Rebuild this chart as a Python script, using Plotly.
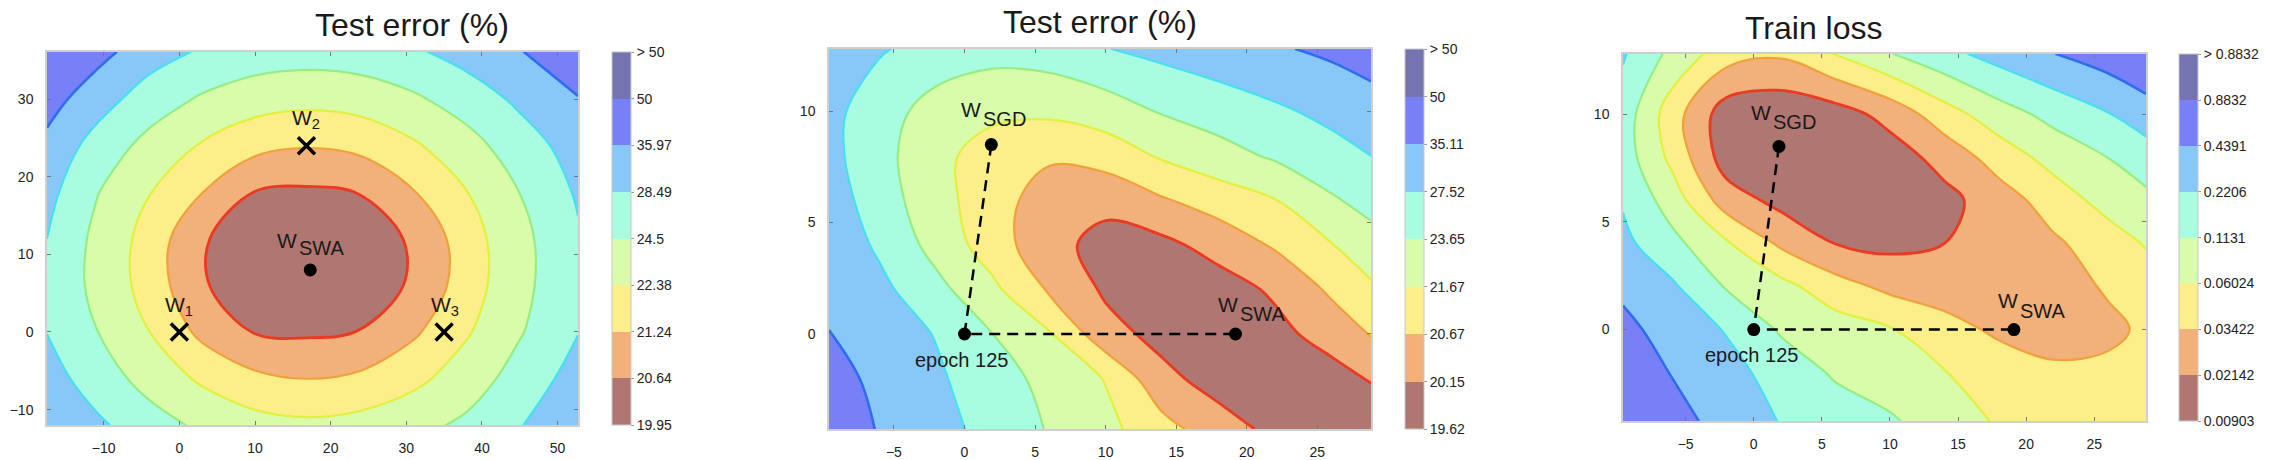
import plotly.graph_objects as go

FONT = "Liberation Sans, Arial, sans-serif"
W, H = 2280, 460

band_colors = ["#B07672", "#F2B07A", "#FCEE88", "#D8FCAA", "#A8FCE0", "#88C8F8", "#7880F8", "#7474B0"]
line_colors = {1: "#EC3A22", 2: "#F2A03C", 3: "#E2F042", 4: "#96EE80", 5: "#48E0F0", 6: "#2E6CF0", 7: "#2030D0"}
line_widths = {1: 2.8, 2: 2.2, 3: 2.2, 4: 2.2, 5: 2.2, 6: 2.6, 7: 2.6}

# ---------------- panel 1 : test error, plane of W1 W2 W3 (z = colour-band index)
p1_x = [-17.5, -11, -4, 3, 10, 17, 24, 31, 38, 45, 52.7]
p1_y = [-12, -6, 0, 6, 12, 18, 24, 30, 36.1]
p1_z = [
    [5.80, 5.20, 4.43, 3.81, 3.38, 3.21, 3.36, 3.70, 4.20, 4.95, 5.75],
    [5.43, 4.52, 3.64, 2.84, 2.22, 1.98, 2.20, 2.75, 3.50, 4.40, 5.40],
    [4.98, 4.03, 3.01, 1.75, 0.95, 0.86, 1.02, 1.85, 2.90, 3.92, 4.97],
    [4.80, 3.76, 2.62, 1.05, 0.70, 0.41, 0.68, 1.08, 2.55, 3.70, 4.87],
    [5.00, 3.77, 2.64, 1.05, 0.71, 0.44, 0.69, 1.08, 2.57, 3.71, 4.88],
    [5.30, 4.06, 3.04, 2.02, 0.97, 0.85, 1.02, 1.96, 2.98, 4.01, 5.12],
    [5.75, 4.62, 3.69, 2.91, 2.30, 2.06, 2.28, 2.87, 3.64, 4.51, 5.45],
    [6.40, 5.45, 4.52, 3.88, 3.45, 3.29, 3.43, 3.85, 4.45, 5.20, 5.95],
    [6.90, 6.35, 5.45, 4.88, 4.55, 4.44, 4.54, 4.86, 5.40, 5.95, 6.70],
]
p1_levels = ["19.95", "20.64", "21.24", "22.38", "24.5", "28.49", "35.97", "50", "> 50"]
p1_range_x = [-17.5, 52.7]
p1_range_y = [-12, 36.1]
p1_xticks = [-10, 0, 10, 20, 30, 40, 50]
p1_yticks = [-10, 0, 10, 20, 30]
p1_cross_x = [0, 16.8, 35]
p1_cross_y = [0, 24, 0]
p1_cross_names = ["W<sub>1</sub>", "W<sub>2</sub>", "W<sub>3</sub>"]
p1_cross_label_x = [-0.1, 16.8, 35.1]
p1_cross_label_y = [3.4, 27.4, 3.4]
p1_swa = (17.3, 8.0)

# ---------------- panel 2 : test error, SGD / SWA plane
p2_x = [-9.6, -6, -2, 2, 6, 10, 14, 18, 22, 26, 28.8]
p2_y = [-4.27, -2, 0, 2, 4, 6, 8, 10, 12.8]
p2_z = [
    [6.45, 5.95, 5.34, 4.67, 3.93, 3.27, 2.38, 1.44, 0.75, 0.45, 0.50],
    [6.35, 5.77, 5.15, 4.43, 3.70, 2.95, 1.27, 0.60, 0.40, 0.60, 1.05],
    [6.03, 5.52, 4.95, 4.00, 3.09, 1.35, 0.70, 0.45, 0.70, 1.42, 2.07],
    [5.70, 5.25, 4.29, 3.22, 1.88, 0.85, 0.50, 0.55, 1.16, 2.17, 2.83],
    [5.70, 4.83, 3.65, 2.50, 1.30, 0.70, 0.75, 1.38, 2.12, 2.96, 3.61],
    [5.50, 4.49, 3.36, 2.44, 1.50, 1.25, 1.90, 2.46, 2.97, 3.88, 4.33],
    [5.30, 4.32, 3.31, 2.50, 2.15, 2.45, 3.12, 3.63, 4.14, 4.65, 5.00],
    [5.30, 4.43, 3.60, 3.25, 3.20, 3.50, 4.08, 4.46, 4.84, 5.25, 5.59],
    [5.70, 5.10, 4.60, 4.35, 4.50, 4.97, 5.29, 5.59, 5.89, 6.20, 6.45],
]
p2_levels = ["19.62", "20.15", "20.67", "21.67", "23.65", "27.52", "35.11", "50", "> 50"]

# ---------------- panel 3 : train loss, SGD / SWA plane
p3_x = [-9.6, -6, -2, 2, 6, 10, 14, 18, 22, 26, 28.8]
p3_y = [-4.25, -2, 0, 2, 4, 6, 8, 10, 12.8]
p3_z = [
    [6.70, 6.35, 5.64, 4.95, 4.54, 4.13, 3.49, 2.90, 2.60, 2.45, 2.40],
    [6.55, 5.96, 5.34, 4.60, 3.87, 3.45, 3.03, 2.60, 2.15, 2.20, 2.40],
    [6.25, 5.62, 4.93, 3.88, 3.48, 3.07, 2.41, 1.80, 1.65, 1.80, 2.15],
    [5.80, 5.15, 3.92, 3.31, 2.41, 1.75, 1.45, 1.45, 1.60, 2.10, 2.50],
    [5.25, 4.29, 3.11, 1.82, 0.98, 0.75, 1.00, 1.42, 1.84, 2.51, 3.08],
    [4.90, 3.53, 1.50, 0.70, 0.35, 0.40, 0.70, 1.53, 2.46, 3.37, 3.80],
    [4.50, 2.75, 0.50, 0.30, 0.20, 0.50, 1.37, 2.45, 3.37, 4.01, 4.45],
    [4.55, 2.46, 0.45, 0.25, 0.55, 1.35, 2.57, 3.57, 4.30, 4.95, 5.60],
    [5.10, 3.74, 2.45, 2.15, 3.05, 3.96, 4.72, 5.38, 5.98, 6.50, 6.80],
]
p3_levels = ["0.00903", "0.02142", "0.03422", "0.06024", "0.1131", "0.2206", "0.4391", "0.8832", "> 0.8832"]

sgd_range_x = [-9.6, 28.8]
sgd_xticks = [-5, 0, 5, 10, 15, 20, 25]
sgd_yticks = [0, 5, 10]
p2_range_y = [-4.27, 12.8]
p3_range_y = [-4.25, 12.8]
p2_pts_x = [1.9, 0, 19.2]      # W_SGD, epoch 125, W_SWA
p2_pts_y = [8.5, 0, 0]
p3_pts_x = [1.85, 0, 19.1]
p3_pts_y = [8.5, 0, 0]

titles = ["Test error (%)", "Test error (%)", "Train loss"]

# ---------------- layout geometry (pixels)
plots = [
    dict(x0=47, x1=578, y0=52, y1=427, cb=612),
    dict(x0=829, x1=1371, y0=49, y1=431, cb=1405),
    dict(x0=1623, x1=2146, y0=54, y1=423, cb=2179),
]

nb = len(band_colors)
# plotly colours band k (between levels k and k+1) with the colorscale value at level k, domain [0, 7]
fill_scale = [[k / 7, band_colors[k]] for k in range(8)]

fig = go.Figure()

panels = [
    (p1_x, p1_y, p1_z, p1_levels),
    (p2_x, p2_y, p2_z, p2_levels),
    (p3_x, p3_y, p3_z, p3_levels),
]

for i, (xs, ys, zs, labels) in enumerate(panels):
    ax = "" if i == 0 else str(i + 1)
    g = plots[i]
    fig.add_trace(go.Contour(
        x=xs, y=ys, z=zs, xaxis="x" + ax, yaxis="y" + ax,
        zmin=0, zmax=8, autocontour=False,
        contours=dict(start=1, end=7, size=1, coloring="fill", showlines=False),
        line=dict(width=0), colorscale=fill_scale, hoverinfo="skip",
        colorbar=dict(
            x=g["cb"] / W, xanchor="left", xpad=0, ypad=0,
            y=1 - g["y1"] / H, yanchor="bottom", len=(g["y1"] - g["y0"]) / H, lenmode="fraction",
            thickness=19, outlinewidth=1, outlinecolor="#c8c8c8",
            tickmode="array", tickvals=list(range(nb + 1)), ticktext=labels,
            ticks="outside", ticklen=3, tickcolor="#999999",
            tickfont=dict(family=FONT, size=14, color="#222222"),
        ),
    ))
    for k in range(1, 8):
        fig.add_trace(go.Contour(
            x=xs, y=ys, z=zs, xaxis="x" + ax, yaxis="y" + ax, autocontour=False,
            contours=dict(start=k, end=k, size=1, coloring="none"),
            line=dict(color=line_colors[k], width=line_widths[k]),
            showscale=False, hoverinfo="skip",
        ))

# panel 1 markers
fig.add_trace(go.Scatter(x=p1_cross_x, y=p1_cross_y, mode="markers", xaxis="x", yaxis="y",
                         marker=dict(symbol="x-thin", size=17, color="black",
                                     line=dict(color="black", width=3.5)), hoverinfo="skip"))
fig.add_trace(go.Scatter(x=[p1_swa[0]], y=[p1_swa[1]], mode="markers", xaxis="x", yaxis="y",
                         marker=dict(symbol="circle", size=13, color="black"), hoverinfo="skip"))

# panels 2/3: dashed path W_SGD -> epoch 125 -> W_SWA
for ax, px, py in [("2", p2_pts_x, p2_pts_y), ("3", p3_pts_x, p3_pts_y)]:
    fig.add_trace(go.Scatter(x=px, y=py, mode="lines", xaxis="x" + ax, yaxis="y" + ax,
                             line=dict(color="black", width=2.5, dash="11px,7px"), hoverinfo="skip"))
    fig.add_trace(go.Scatter(x=px, y=py, mode="markers", xaxis="x" + ax, yaxis="y" + ax,
                             marker=dict(symbol="circle", size=13, color="black"), hoverinfo="skip"))

ann = []
lab_font = dict(family=FONT, size=21, color="#1a1a1a")
for lx, ly, name in zip(p1_cross_label_x, p1_cross_label_y, p1_cross_names):
    ann.append(dict(x=lx, y=ly, xref="x", yref="y", text=name, showarrow=False, font=lab_font))


def w_label(xr, yr, x_join, y_w, y_sub, sub):
    """'W' ending at x_join, then a full-size subscript starting at x_join, a little lower."""
    ann.append(dict(x=x_join, y=y_w, xref=xr, yref=yr, text="W", showarrow=False,
                    xanchor="right", yanchor="middle", xshift=1, font=lab_font))
    ann.append(dict(x=x_join, y=y_sub, xref=xr, yref=yr, text=sub, showarrow=False,
                    xanchor="left", yanchor="middle", xshift=-1, font=dict(family=FONT, size=20, color="#1a1a1a")))


w_label("x", "y", 15.65, 11.85, 10.77, "SWA")
w_label("x2", "y2", 1.27, 10.09, 9.64, "SGD")
w_label("x2", "y2", 19.44, 1.31, 0.88, "SWA")
w_label("x3", "y3", 1.31, 10.09, 9.65, "SGD")
w_label("x3", "y3", 19.51, 1.34, 0.88, "SWA")
for ax in ["2", "3"]:
    ann.append(dict(x=-0.18, y=-1.19, xref="x" + ax, yref="y" + ax, text="epoch 125",
                    showarrow=False, font=dict(family=FONT, size=20, color="#1a1a1a")))

title_y = [25, 22, 28]
for i, t in enumerate(titles):
    g = plots[i]
    ann.append(dict(x=(g["x0"] + g["x1"]) / 2 / W, y=1 - title_y[i] / H, xref="paper", yref="paper",
                    text=t, showarrow=False, yanchor="middle",
                    font=dict(family=FONT, size=32, color="#1a1a1a")))

axis_common = dict(showgrid=False, zeroline=False, showline=True, linecolor="#cfcfcf", linewidth=1.5,
                   mirror="ticks", ticks="inside", ticklen=4, tickcolor="#777777",
                   tickfont=dict(family=FONT, size=14, color="#222222"))

ranges = [(p1_range_x, p1_range_y, p1_xticks, p1_yticks),
          (sgd_range_x, p2_range_y, sgd_xticks, sgd_yticks),
          (sgd_range_x, p3_range_y, sgd_xticks, sgd_yticks)]
layout_axes = {}
for i, (rx, ry, tx, ty) in enumerate(ranges):
    g = plots[i]
    ax = "" if i == 0 else str(i + 1)
    layout_axes["xaxis" + ax] = dict(axis_common, domain=[g["x0"] / W, g["x1"] / W], range=rx,
                                     tickvals=tx, anchor="y" + ax, ticklabelstandoff=9)
    layout_axes["yaxis" + ax] = dict(axis_common, domain=[1 - g["y1"] / H, 1 - g["y0"] / H], range=ry,
                                     tickvals=ty, anchor="x" + ax, ticklabelstandoff=9)

fig.update_layout(width=W, height=H, margin=dict(l=0, r=0, t=0, b=0), autosize=False,
                  paper_bgcolor="white", plot_bgcolor="white", showlegend=False,
                  annotations=ann, **layout_axes)

fig.write_html("out.html")
